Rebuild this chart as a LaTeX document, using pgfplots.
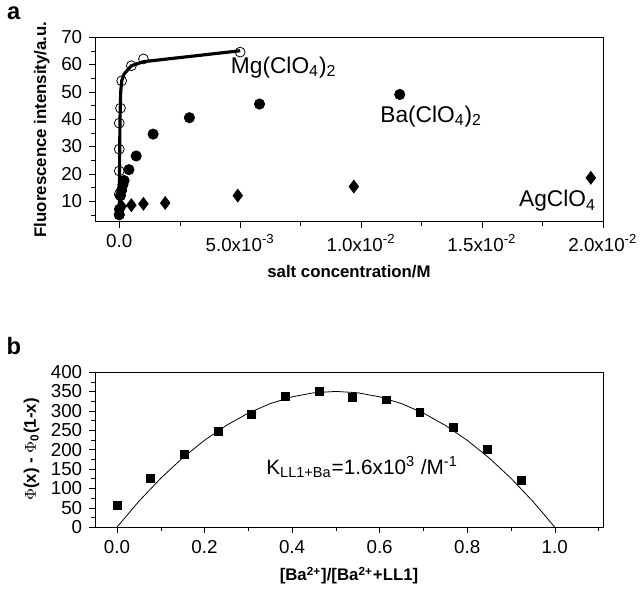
\documentclass[border=0pt]{standalone}
\usepackage{pgfplots}
\pgfplotsset{compat=1.18}
\usepackage{fontspec}
\setmainfont{Liberation Sans}
\begin{document}
\begin{tikzpicture}
\pgfplotsset{every axis/.append style={scale only axis, width=257pt, font=\fontsize{9.5}{11}\selectfont,
  tick style={black}, /pgf/number format/assume math mode=true, tick align=outside,
  major tick length=3pt, minor tick length=2pt, clip=false,
  every axis label/.append style={font=\fontsize{8.5}{10}\selectfont\bfseries}}}
\begin{axis}[at={(0,0)}, anchor=north west, height=93.5pt,
  xmin=-0.001, xmax=0.02, ymin=2.4, ymax=70,
  xtick={0,0.005,0.01,0.015,0.02}, minor xtick={0.0025,0.0075,0.0125,0.0175},
  xticklabels={0.0, 5.0x10\textsuperscript{-3}, 1.0x10\textsuperscript{-2}, 1.5x10\textsuperscript{-2}, 2.0x10\textsuperscript{-2}},
  ytick={10,20,30,40,50,60,70}, minor ytick={5,15,25,35,45,55,65},
  xtick pos=bottom, ytick pos=left, scaled x ticks=false,
  xlabel={salt concentration/M}, ylabel={Fluorescence intensity/a.u.},
  ylabel style={yshift=-1pt}]
\addplot[black, line width=1.6pt] coordinates {(0,5) (0.00001,20) (0.00003,40) (0.00006,50) (0.0001,54) (0.0002,56.5) (0.0005,59.5) (0.001,61) (0.005,65)};
\addplot[only marks, mark=o, mark size=2.5pt, black, thin] coordinates {(0,5) (0,7) (0,12.5) (0,21) (0,29) (0,38.5) (0.00005,44) (0.0001,54) (0.0005,59.5) (0.001,62) (0.005,64.5)};
\addplot[only marks, mark=*, mark size=2.6pt, black] coordinates {(0,5) (0.00005,12) (0.0001,14) (0.00015,16) (0.0002,17.5) (0.0004,21.5) (0.0007,26.5) (0.0014,34.5) (0.0029,40.5) (0.0058,45.5) (0.0116,49)};
\addplot[only marks, mark=diamond*, mark size=3.2pt, black] coordinates {(0,7) (0.0001,8) (0.0005,8.5) (0.001,9) (0.0019,9.3) (0.0049,12) (0.0097,15.3) (0.0195,18.5)};
\node[font=\fontsize{11.5}{13}\selectfont] at (axis cs:0.0068,59) {Mg(ClO\textsubscript{4})\textsubscript{2}};
\node[font=\fontsize{11.5}{13}\selectfont] at (axis cs:0.0129,41) {Ba(ClO\textsubscript{4})\textsubscript{2}};
\node[font=\fontsize{11.5}{13}\selectfont, anchor=east] at (axis cs:0.02,10) {AgClO\textsubscript{4}};
\node[font=\fontsize{12}{13}\selectfont\bfseries] at (rel axis cs:-0.16,1.13) {a};
\end{axis}
\begin{axis}[at={(0,-169.5pt)}, anchor=north west, height=78.5pt,
  xmin=-0.05, xmax=1.11, ymin=0, ymax=400,
  xtick={0,0.2,0.4,0.6,0.8,1.0}, minor xtick={0.1,0.3,0.5,0.7,0.9,1.1},
  xticklabels={0.0,0.2,0.4,0.6,0.8,1.0},
  ytick={0,50,...,400}, minor ytick={25,75,...,375},
  xtick pos=bottom, ytick pos=left,
  xlabel={[Ba\textsuperscript{2+}]/[Ba\textsuperscript{2+}+LL1]}, ylabel={$\Phi$(x) - $\Phi$\textsubscript{0}(1-x)},
  ylabel style={yshift=-1pt}]
\addplot[black, thin] coordinates {(0,0) (0.05,66.5) (0.1,126) (0.15,178.5) (0.2,224) (0.25,262.5) (0.3,294) (0.35,318.5) (0.4,336) (0.45,346.5) (0.5,350) (0.55,346.5) (0.6,336) (0.65,318.5) (0.7,294) (0.75,262.5) (0.8,224) (0.85,178.5) (0.9,126) (0.95,66.5) (1,0)};
\addplot[only marks, mark=square*, mark size=2pt, black] coordinates {(0,55) (0.077,125) (0.154,188) (0.231,246) (0.308,290) (0.385,338) (0.462,350) (0.538,335) (0.615,328) (0.692,297) (0.769,257) (0.846,200) (0.923,120)};
\node[font=\fontsize{10.5}{12}\selectfont] at (axis cs:0.56,155) {K\textsubscript{LL1+Ba}=1.6x10\textsuperscript{3} /M\textsuperscript{-1}};
\node[font=\fontsize{12}{13}\selectfont\bfseries] at (rel axis cs:-0.16,1.17) {b};
\end{axis}
\end{tikzpicture}
\end{document}
